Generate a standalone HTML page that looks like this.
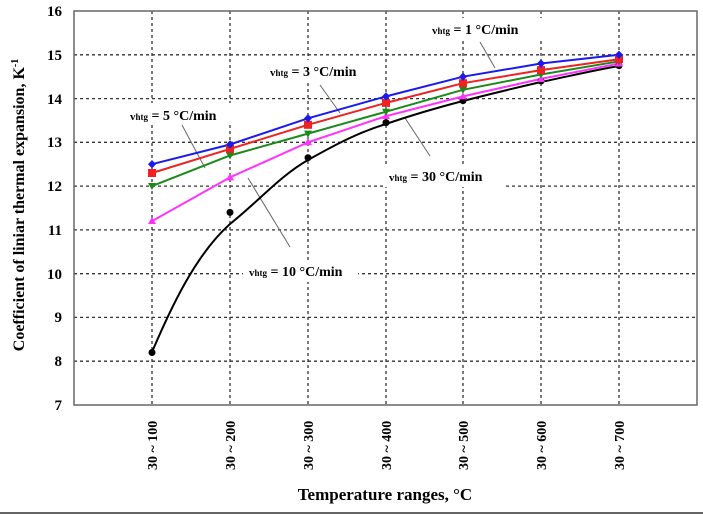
<!DOCTYPE html>
<html><head><meta charset="utf-8"><style>
body{margin:0;background:#fff;}
svg{display:block;}
text{font-family:"Liberation Serif",serif;font-weight:bold;fill:#000;}
</style></head><body>
<svg width="703" height="515" viewBox="0 0 703 515" xmlns="http://www.w3.org/2000/svg">
<rect width="703" height="515" fill="#fff"/>
<g stroke="#333" stroke-width="1.3" stroke-dasharray="3,3" fill="none">
<line x1="74" y1="54.8" x2="697" y2="54.8"/>
<line x1="74" y1="98.6" x2="697" y2="98.6"/>
<line x1="74" y1="142.3" x2="697" y2="142.3"/>
<line x1="74" y1="186.1" x2="697" y2="186.1"/>
<line x1="74" y1="229.9" x2="697" y2="229.9"/>
<line x1="74" y1="273.7" x2="697" y2="273.7"/>
<line x1="74" y1="317.4" x2="697" y2="317.4"/>
<line x1="74" y1="361.2" x2="697" y2="361.2"/>
<line x1="152" y1="11" x2="152" y2="405"/>
<line x1="230" y1="11" x2="230" y2="405"/>
<line x1="308" y1="11" x2="308" y2="405"/>
<line x1="386" y1="11" x2="386" y2="405"/>
<line x1="463" y1="11" x2="463" y2="405"/>
<line x1="541" y1="11" x2="541" y2="405"/>
<line x1="619" y1="11" x2="619" y2="405"/>
</g>
<rect x="265" y="60" width="112" height="20" fill="#fff"/>
<rect x="125" y="103" width="108" height="22" fill="#fff"/>
<rect x="430" y="18" width="112" height="22" fill="#fff"/>
<rect x="385" y="165" width="118" height="22" fill="#fff"/>
<rect x="243" y="260" width="115" height="22" fill="#fff"/>
<rect x="74" y="11" width="623" height="394" fill="none" stroke="#666" stroke-width="1.5"/>
<g stroke="#666" stroke-width="1">
<line x1="182" y1="125" x2="205" y2="168"/>
<line x1="320" y1="85" x2="340" y2="113"/>
<line x1="480" y1="42" x2="495" y2="68"/>
<line x1="430" y1="156" x2="405" y2="118"/>
<line x1="290" y1="247" x2="248" y2="178"/>
</g>
<path fill="none" stroke="#000" stroke-width="2" d="M152,352 C170,310 195,255 230,224 C260,200 280,176 308,160 C340,142 360,132 386,124 C415,114 440,107 463,101 C490,94 515,88 541,82 C570,76 595,70 619,66"/>
<polyline fill="none" stroke="#ff33ff" stroke-width="2" points="152,221.1 230,177.4 308,142.3 386,116.1 463,96.4 541,78.9 619,63.5"/>
<polyline fill="none" stroke="#1a8a1a" stroke-width="2" points="152,186.1 230,155.5 308,133.6 386,111.7 463,89.8 541,74.5 619,61.3"/>
<polyline fill="none" stroke="#ee2222" stroke-width="2" points="152,173 230,148.9 308,124.8 386,102.9 463,83.2 541,70.1 619,59.2"/>
<polyline fill="none" stroke="#1a1aee" stroke-width="2" points="152,164.2 230,144.5 308,118.3 386,96.4 463,76.7 541,63.5 619,54.8"/>
<g fill="#000">
<circle cx="152" cy="352.5" r="3.5"/><circle cx="230" cy="212.4" r="3.5"/><circle cx="308" cy="157.7" r="3.5"/><circle cx="386" cy="122.6" r="3.5"/><circle cx="463" cy="100.7" r="3.5"/><circle cx="541" cy="81" r="3.5"/><circle cx="619" cy="65.7" r="3.5"/>
</g>
<g fill="#ff33ff">
<polygon points="152,217 156,224 148,224"/><polygon points="230,173.4 234,180.4 226,180.4"/><polygon points="308,138.3 312,145.3 304,145.3"/><polygon points="386,112 390,119 382,119"/><polygon points="463,92.4 467,99.4 459,99.4"/><polygon points="541,75 545,82 537,82"/><polygon points="619,59.5 623,66.5 615,66.5"/>
</g>
<g fill="#1a8a1a">
<polygon points="148,183 156,183 152,190"/><polygon points="226,152.5 234,152.5 230,159.5"/><polygon points="304,130.6 312,130.6 308,137.6"/><polygon points="382,108.7 390,108.7 386,115.7"/><polygon points="459,86.8 467,86.8 463,93.8"/><polygon points="537,71.5 545,71.5 541,78.5"/><polygon points="615,58.3 623,58.3 619,65.3"/>
</g>
<g fill="#ee2222">
<rect x="148" y="169" width="8" height="8"/><rect x="226" y="144.9" width="8" height="8"/><rect x="304" y="120.8" width="8" height="8"/><rect x="382" y="98.9" width="8" height="8"/><rect x="459" y="79.2" width="8" height="8"/><rect x="537" y="66.1" width="8" height="8"/><rect x="615" y="55.2" width="8" height="8"/>
</g>
<g fill="#1a1aee">
<polygon points="152,160 156,164.2 152,168.4 148,164.2"/><polygon points="230,140.3 234,144.5 230,148.7 226,144.5"/><polygon points="308,114.1 312,118.3 308,122.5 304,118.3"/><polygon points="386,92.2 390,96.4 386,100.6 382,96.4"/><polygon points="463,72.5 467,76.7 463,80.9 459,76.7"/><polygon points="541,59.3 545,63.5 541,67.7 537,63.5"/><polygon points="619,50.6 623,54.8 619,59 615,54.8"/>
</g>
<g font-size="14">
<text x="270" y="76"><tspan font-size="11">v</tspan><tspan font-size="9">htg</tspan> = 3 °C/min</text>
<text x="130" y="120"><tspan font-size="11">v</tspan><tspan font-size="9">htg</tspan> = 5 °C/min</text>
<text x="432" y="34"><tspan font-size="11">v</tspan><tspan font-size="9">htg</tspan> = 1 °C/min</text>
<text x="389" y="181"><tspan font-size="11">v</tspan><tspan font-size="9">htg</tspan> = 30 °C/min</text>
<text x="249" y="276"><tspan font-size="11">v</tspan><tspan font-size="9">htg</tspan> = 10 °C/min</text>
</g>
<g font-size="15" text-anchor="end">
<text x="62" y="16">16</text><text x="62" y="60">15</text><text x="62" y="104">14</text><text x="62" y="147">13</text><text x="62" y="191">12</text><text x="62" y="235">11</text><text x="62" y="279">10</text><text x="62" y="322">9</text><text x="62" y="366">8</text><text x="62" y="410">7</text>
</g>
<g font-size="14">
<text transform="translate(157,470) rotate(-90)">30 ~ 100</text>
<text transform="translate(235,470) rotate(-90)">30 ~ 200</text>
<text transform="translate(313,470) rotate(-90)">30 ~ 300</text>
<text transform="translate(391,470) rotate(-90)">30 ~ 400</text>
<text transform="translate(468,470) rotate(-90)">30 ~ 500</text>
<text transform="translate(546,470) rotate(-90)">30 ~ 600</text>
<text transform="translate(624,470) rotate(-90)">30 ~ 700</text>
</g>
<text x="385" y="500" font-size="17" text-anchor="middle">Temperature ranges, °C</text>
<text transform="translate(24,205) rotate(-90)" font-size="16" text-anchor="middle">Coefficient of liniar thermal expansion, K<tspan font-size="10" dy="-6">-1</tspan></text>
<line x1="0" y1="513" x2="703" y2="513" stroke="#666" stroke-width="2"/>
</svg>
</body></html>
